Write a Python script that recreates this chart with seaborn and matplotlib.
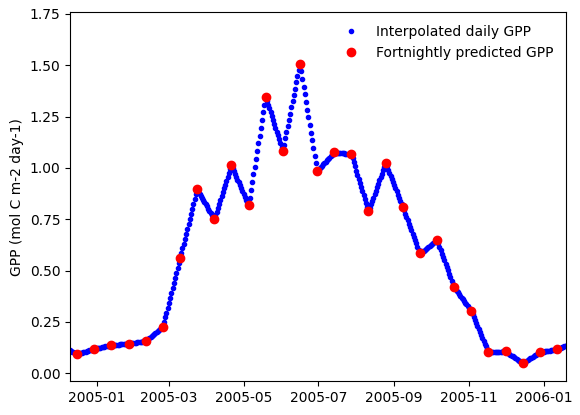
import seaborn as sns
import matplotlib
matplotlib.use("Agg")
import matplotlib.pyplot as plt
import matplotlib.dates as mdates
from matplotlib.ticker import MultipleLocator
import pandas as pd
import numpy as np

# fortnightly model output, first/last lie just outside the view
start_date = "2004-12-02"
n_fortnights = 31
gpp_fortnight = [0.134, 0.094, 0.118, 0.138, 0.143, 0.158, 0.224, 0.560,
                 0.896, 0.750, 1.013, 0.818, 1.346, 1.083, 1.507, 0.985,
                 1.076, 1.067, 0.789, 1.023, 0.809, 0.584, 0.649, 0.419,
                 0.302, 0.102, 0.107, 0.050, 0.102, 0.117, 0.152]

dates = pd.date_range(start_date, periods=n_fortnights, freq="14D")
fort = pd.Series(gpp_fortnight, index=dates)

# daily series = linear interpolation of the fortnightly values
daily = fort.resample("D").interpolate(method="time")

fig, ax = plt.subplots(figsize=(5.8, 4.15), dpi=100)
fig.subplots_adjust(left=0.1212, right=0.976, top=0.9704, bottom=0.0819)

sns.lineplot(x=daily.index, y=daily.values, ax=ax, estimator=None,
             marker=".", linestyle="", color="b", markersize=6,
             markeredgecolor="b", markeredgewidth=1,
             label="Interpolated daily GPP")
sns.lineplot(x=fort.index, y=fort.values, ax=ax, estimator=None,
             marker="o", linestyle="", color="r", markersize=6,
             markeredgecolor="r", markeredgewidth=1,
             label="Fortnightly predicted GPP")

ax.set_xlim(pd.Timestamp("2004-12-10 10:00"), pd.Timestamp("2006-01-19 10:00"))
ax.set_ylim(-0.0375, 1.758)
ax.yaxis.set_major_locator(MultipleLocator(0.25))
ax.xaxis.set_major_locator(mdates.MonthLocator(interval=2))
ax.xaxis.set_major_formatter(mdates.DateFormatter("%Y-%m"))
ax.set_xlabel("")
ax.set_ylabel("GPP (mol C m-2 day-1)")
ax.legend(loc="upper right", frameon=False)

fig.savefig("out.png", dpi=100)
